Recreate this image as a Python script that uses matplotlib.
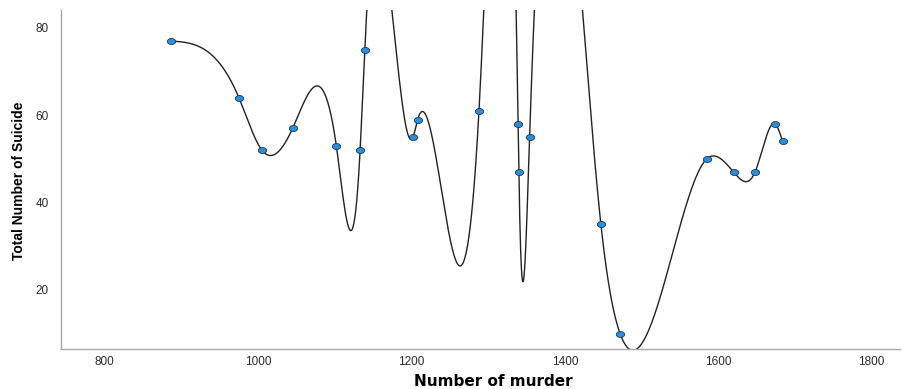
import numpy as np
import matplotlib
matplotlib.use("Agg")
import matplotlib.pyplot as plt
from matplotlib.path import Path

murders = [887, 975, 1005, 1045, 1102, 1133, 1139, 1202, 1208, 1288,
           1339, 1340, 1354, 1447, 1472, 1585, 1620, 1648, 1674, 1684]
suicides = [77, 64, 52, 57, 53, 52, 75, 55, 59, 61,
            58, 47, 55, 35, 10, 50, 47, 47, 58, 54]
xticks = [800, 1000, 1200, 1400, 1600, 1800]
yticks = [20, 40, 60, 80]


def natural_spline(x, y, xs):
    x = np.asarray(x, float)
    y = np.asarray(y, float)
    n = len(x)
    h = np.diff(x)
    A = np.zeros((n, n))
    b = np.zeros(n)
    A[0, 0] = 1
    A[-1, -1] = 1
    for i in range(1, n - 1):
        A[i, i - 1] = h[i - 1]
        A[i, i] = 2 * (h[i - 1] + h[i])
        A[i, i + 1] = h[i]
        b[i] = 3 * ((y[i + 1] - y[i]) / h[i] - (y[i] - y[i - 1]) / h[i - 1])
    c = np.linalg.solve(A, b)
    idx = np.clip(np.searchsorted(x, xs) - 1, 0, n - 2)
    bb = (y[1:] - y[:-1]) / h - h * (2 * c[:-1] + c[1:]) / 3
    d = (c[1:] - c[:-1]) / (3 * h)
    t = xs - x[idx]
    return y[idx] + bb[idx] * t + c[idx] * t ** 2 + d[idx] * t ** 3


fig = plt.figure(figsize=(9.02, 3.89), dpi=100)
ax = fig.add_axes([61 / 902, 1 - 349.3 / 389, 839 / 902, 339.3 / 389])

xs = np.linspace(murders[0], murders[-1], 6000)
ys = natural_spline(murders, suicides, xs)
ax.plot(xs, ys, color="#222222", lw=1.0, zorder=2)

theta = np.linspace(0, 2 * np.pi, 40)
ell = Path(np.column_stack([np.cos(theta), 0.72 * np.sin(theta)]))
ax.plot(murders, suicides, linestyle="none", marker=ell, markersize=6,
        markerfacecolor="#2a8fdc", markeredgecolor="#1a3550", markeredgewidth=0.6,
        zorder=3)

ax.set_xlim(743, 1837)
ax.set_ylim(6.4, 84.1)
ax.set_xticks(xticks)
ax.set_yticks(yticks)
ax.tick_params(length=0, labelsize=8.5, colors="#2a2a2a")
ax.tick_params(axis="x", pad=5)
ax.tick_params(axis="y", pad=9)
for s in ["top", "right"]:
    ax.spines[s].set_visible(False)
for s in ["left", "bottom"]:
    ax.spines[s].set_color("#a8a8a8")
    ax.spines[s].set_linewidth(1.0)
for lab in ax.get_xticklabels() + ax.get_yticklabels():
    lab.set_family(["Liberation Sans", "DejaVu Sans"])

fig.text(493 / 902, 1 - 382 / 389, "Number of murder", ha="center", va="center",
         fontsize=11, fontweight="bold", family=["DejaVu Sans"])
fig.text(19 / 902, 1 - 181 / 389, "Total Number of Suicide", ha="center", va="center",
         rotation=90, fontsize=10, family=["Liberation Sans Narrow", "Liberation Sans"],
         fontweight="bold")

fig.savefig("out.png", dpi=100)
